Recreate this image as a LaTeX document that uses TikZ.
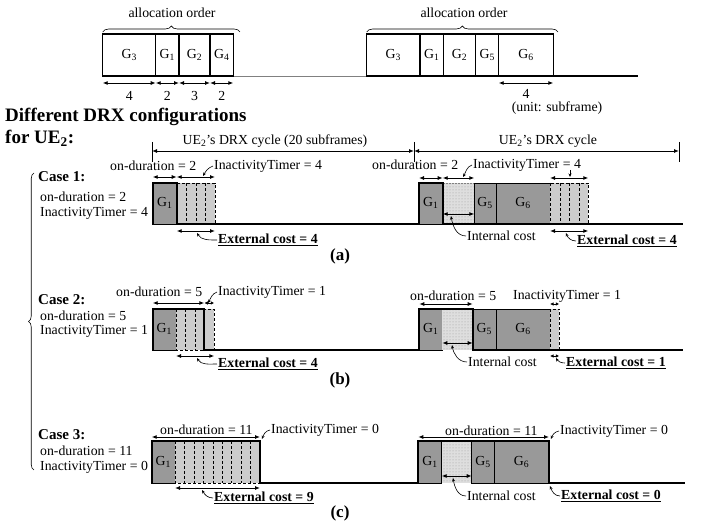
\documentclass[tikz,border=0pt]{standalone}
\usepackage{fontspec}
\setmainfont{Liberation Serif}
\usetikzlibrary{patterns,decorations.pathreplacing,arrows.meta}
\definecolor{gbox}{gray}{0.6}
\definecolor{lgray}{gray}{0.8}
\definecolor{sgray}{gray}{0.87}
\newcommand\Gs[1]{G\textsubscript{#1}}
\newcommand\UEt{UE\textsubscript{2}}
\tikzset{
  txt/.style={font=\fontsize{13.8}{15}\selectfont, inner sep=0pt},
  btxt/.style={font=\fontsize{13.8}{15}\selectfont\bfseries, inner sep=0pt},
  ctxt/.style={font=\fontsize{15}{16}\selectfont\bfseries, inner sep=0pt},
  ltxt/.style={font=\fontsize{17}{18}\selectfont\bfseries, inner sep=0pt},
  ttl/.style={font=\fontsize{19}{21}\selectfont\bfseries, inner sep=0pt, anchor=west},
  dimarr/.style={{Latex[length=5pt,width=4pt]}-{Latex[length=5pt,width=4pt]}, line width=0.9pt},
  sdimarr/.style={{Latex[length=3.5pt,width=3.5pt]}-{Latex[length=3.5pt,width=3.5pt]}, line width=0.9pt},
  leader/.style={line width=0.6pt, -{Stealth[length=3.5pt,width=3pt]}},
  wbox/.style={draw, line width=1.2pt, fill=white},
  gbx/.style={draw, line width=0.7pt, fill=gbox},
  ibox/.style={draw, densely dashed, line width=0.5pt, fill=lgray},
  prof/.style={line width=2.2pt, line join=miter},
  dline/.style={densely dashed, line width=0.6pt},
  brc/.style={decorate, line width=0.6pt},
}
\begin{document}
\begin{tikzpicture}[x=1pt,y=-1pt]
\useasboundingbox (0,0) rectangle (702,526);

% ---------------- top: allocation order ----------------
\draw[gray, line width=0.8pt] (233.3,76) -- (366.7,76);
\draw[line width=1.4pt] (366.7,76) -- (638,76);
\draw[wbox] (102.7,34) rectangle (155.7,76);
\draw[wbox] (155.7,34) rectangle (179,76);
\draw[wbox] (179,34) rectangle (210,76);
\draw[wbox] (210,34) rectangle (233.3,76);
\node[txt] (tlG3) at (129.2,55) {\Gs{3}};
\node[txt] (tlG1) at (167.3,55) {\Gs{1}};
\node[txt] (tlG2) at (194.5,55) {\Gs{2}};
\node[txt] (tlG4) at (221.7,55) {\Gs{4}};
\draw[wbox] (366.7,34) rectangle (420,76);
\draw[wbox] (420,34) rectangle (443.3,76);
\draw[wbox] (443.3,34) rectangle (475.7,76);
\draw[wbox] (475.7,34) rectangle (498.7,76);
\draw[wbox] (498.7,34) rectangle (553.3,76);
\node[txt] (trG3) at (393.3,55) {\Gs{3}};
\node[txt] (trG1) at (431.7,55) {\Gs{1}};
\node[txt] (trG2) at (459.5,55) {\Gs{2}};
\node[txt] (trG5) at (487.2,55) {\Gs{5}};
\node[txt] (trG6) at (526,55) {\Gs{6}};

\draw[brc, decoration={brace, amplitude=6pt}] (102.7,32) -- (240,32);
\draw[brc, decoration={brace, amplitude=6pt}] (366.7,32) -- (558,32);
\node[txt] (ao1) at (172,13) {allocation order};
\node[txt] (ao2) at (464,13) {allocation order};

\draw[dimarr] (102.7,83) -- (155.7,83);
\draw[dimarr] (155.7,83) -- (179,83);
\draw[dimarr] (179,83) -- (210,83);
\draw[dimarr] (210,83) -- (233.3,83);
\node[txt] (d4) at (129.2,96) {4};
\node[txt] (d2a) at (167.3,96) {2};
\node[txt] (d3) at (194.5,96) {3};
\node[txt] (d2b) at (221.7,96) {2};
\draw[dimarr] (498.7,83) -- (553.3,83);
\node[txt] (d4r) at (526,93.5) {4};
\node[txt] (unit) at (557,108.5) {(unit: subframe)};

% ---------------- title ----------------
\node[ttl] (t1) at (5,117) {Different DRX configurations};
\node[ttl] (t2) at (5,138) {for \UEt:};

% ---------------- DRX cycle ----------------
\draw[line width=0.8pt] (152,142) -- (152,162);
\draw[line width=0.8pt] (414,142) -- (414,162);
\draw[line width=0.8pt] (679,142) -- (679,162);
\draw[dimarr] (152,151) -- (414,151);
\draw[dimarr] (414,151) -- (679,151);
\node[txt] (cyc1) at (275,141) {\UEt's DRX cycle (20 subframes)};
\node[txt] (cyc2) at (548,141) {\UEt's DRX cycle};

% ---------------- left brace and case labels ----------------
\draw[brc, decoration={brace, amplitude=5.5pt}] (34,470) -- (34,173);
\node[ctxt, anchor=west] (k1) at (38,177) {Case 1:};
\node[txt, anchor=west] (k1on) at (40,197) {on-duration = 2};
\node[txt, anchor=west] (k1it) at (40,213) {InactivityTimer = 4};
\node[ctxt, anchor=west] (k2) at (38,300) {Case 2:};
\node[txt, anchor=west] (k2on) at (40,316) {on-duration = 5};
\node[txt, anchor=west] (k2it) at (40,331) {InactivityTimer = 1};
\node[ctxt, anchor=west] (k3) at (38,435) {Case 3:};
\node[txt, anchor=west] (k3on) at (40,451) {on-duration = 11};
\node[txt, anchor=west] (k3it) at (40,467) {InactivityTimer = 0};

% ================= Case 1 =================
\draw[gbx] (152.7,183) rectangle (176.7,224);
\node[txt] (c1aG1) at (164.7,203) {\Gs{1}};
\draw[ibox] (176.7,183) rectangle (215,224);
\foreach \x in {186.3,195.9,205.5} \draw[dline] (\x,183) -- (\x,224);
\draw[gbx] (419,183) rectangle (442.7,224);
\node[txt] (c1bG1) at (430.8,203) {\Gs{1}};
\fill[sgray] (442.7,183) rectangle (474.3,224);
\fill[pattern=dots, pattern color=gray!80] (442.7,183) rectangle (474.3,224);
\draw[densely dotted, gray, line width=0.5pt] (442.7,183) -- (474.3,183);
\draw[gbx] (474.3,183) rectangle (496,224);
\node[txt] (c1bG5) at (485.1,203) {\Gs{5}};
\draw[gbx] (496,183) rectangle (550,224);
\node[txt] (c1bG6) at (523,203) {\Gs{6}};
\draw[ibox] (550,183) rectangle (588.3,224);
\foreach \x in {559.8,569.3,578.8} \draw[dline] (\x,183) -- (\x,224);
\draw[prof] (152.7,225) -- (152.7,183) -- (176.7,183) -- (176.7,224) -- (419,224) -- (419,183) -- (442.7,183) -- (442.7,224) -- (683,224);

\node[txt, anchor=west] (c1aon) at (110,166) {on-duration = 2};
\draw[dimarr] (152.7,177) -- (176.7,177);
\draw[dimarr] (176.7,177) -- (215,177);
\node[txt, anchor=west] (c1ait) at (214,166) {InactivityTimer = 4};
\draw[leader] ([xshift=-1pt]c1ait.west) to[out=200,in=60] (203,176);
\draw[dimarr] (176.7,231) -- (215,231);
\node[btxt, anchor=west] (c1aext) at (218,240) {\underline{External cost = 4}};
\draw[leader] ([xshift=-1pt]c1aext.west) to[out=180,in=-60] (197,233);
\node[ltxt] (lbla) at (340,256) {(a)};

\node[txt, anchor=west] (c1bon) at (372,165) {on-duration = 2};
\draw[dimarr] (419,178) -- (442.7,178);
\draw[dimarr] (442.7,178) -- (474.3,178);
\node[txt, anchor=west] (c1bit) at (473,165) {InactivityTimer = 4};
\draw[leader] ([xshift=-1pt]c1bit.west) to[out=200,in=60] (463,177);
\draw[dimarr] (550,178) -- (588.3,178);
\draw[leader] (570,170) -- (570,177);
\draw[dimarr] (442.7,214) -- (474.3,214);
\node[txt, anchor=west] (c1bint) at (467,236) {Internal cost};
\draw[leader] ([xshift=-1pt]c1bint.west) to[out=180,in=-80] (451,216);
\draw[dimarr] (550,231) -- (588.3,231);
\node[btxt, anchor=west] (c1bext) at (577,241) {\underline{External cost = 4}};
\draw[leader] ([xshift=-1pt]c1bext.west) to[out=180,in=-70] (566,233);

% ================= Case 2 =================
\draw[gbx] (152.7,309) rectangle (176,350);
\node[txt] (c2aG1) at (164.3,329) {\Gs{1}};
\draw[ibox] (176,309) rectangle (204.3,350);
\foreach \x in {185.7,195} \draw[dline] (\x,309) -- (\x,350);
\draw[ibox] (204.3,309) rectangle (214.3,350);
\draw[gbx] (419.3,309) rectangle (442.3,350);
\node[txt] (c2bG1) at (430.8,329) {\Gs{1}};
\fill[sgray] (442.3,309) rectangle (472.7,350);
\fill[pattern=dots, pattern color=gray!80] (442.3,309) rectangle (472.7,350);
\draw[gbx] (472.7,309) rectangle (496,350);
\node[txt] (c2bG5) at (484.3,329) {\Gs{5}};
\draw[gbx] (496,309) rectangle (550,350);
\node[txt] (c2bG6) at (523,329) {\Gs{6}};
\draw[ibox] (550,309) rectangle (559.3,350);
\draw[prof] (152.7,351) -- (152.7,309) -- (204.3,309) -- (204.3,350) -- (419.3,350) -- (419.3,309) -- (472.7,309) -- (472.7,350) -- (683,350);

\node[txt, anchor=west] (c2aon) at (116,292) {on-duration = 5};
\draw[dimarr] (152.7,303) -- (204.3,303);
\draw[sdimarr] (204.3,303) -- (214.3,303);
\node[txt, anchor=west] (c2ait) at (218,292) {InactivityTimer = 1};
\draw[leader] ([xshift=-1pt]c2ait.west) to[out=200,in=60] (208,303);
\draw[dimarr] (176,356) -- (214.3,356);
\node[btxt, anchor=west] (c2aext) at (218,364) {\underline{External cost = 4}};
\draw[leader] ([xshift=-1pt]c2aext.west) to[out=180,in=-60] (197,358);
\node[ltxt] (lblb) at (340,380) {(b)};

\node[txt, anchor=west] (c2bon) at (410,296) {on-duration = 5};
\draw[dimarr] (419.3,304) -- (472.7,304);
\node[txt, anchor=west] (c2bit) at (513,296) {InactivityTimer = 1};
\draw[sdimarr] (550,304) -- (559.3,304);
\draw[dimarr] (442.3,343) -- (472.7,343);
\node[txt, anchor=west] (c2bint) at (468,362) {Internal cost};
\draw[leader] ([xshift=-1pt]c2bint.west) to[out=180,in=-80] (452,345);
\draw[sdimarr] (550,356) -- (559.3,356);
\node[btxt, anchor=west] (c2bext) at (566,363) {\underline{External cost = 1}};
\draw[leader] ([xshift=-1pt]c2bext.west) to[out=180,in=-60] (556,358);

% ================= Case 3 =================
\draw[gbx] (151.7,441) rectangle (175,483);
\node[txt] (c3aG1) at (163.3,462) {\Gs{1}};
\draw[ibox] (175,441) rectangle (260,483);
\foreach \x in {184.4,193.9,203.3,212.8,222.2,231.7,241.1,250.6} \draw[dline] (\x,441) -- (\x,483);
\draw[gbx] (418.3,441) rectangle (441.7,483);
\node[txt] (c3bG1) at (430,462) {\Gs{1}};
\fill[sgray] (441.7,441) rectangle (471.7,483);
\fill[pattern=dots, pattern color=gray!80] (441.7,441) rectangle (471.7,483);
\draw[gbx] (471.7,441) rectangle (494.3,483);
\node[txt] (c3bG5) at (483,462) {\Gs{5}};
\draw[gbx] (494.3,441) rectangle (549,483);
\node[txt] (c3bG6) at (521.6,462) {\Gs{6}};
\draw[prof] (151.7,484) -- (151.7,441) -- (260,441) -- (260,483) -- (418.3,483) -- (418.3,441) -- (549,441) -- (549,483) -- (685,483);

\node[txt, anchor=west] (c3aon) at (160,430) {on-duration = 11};
\draw[dimarr] (151.7,437) -- (260,437);
\node[txt, anchor=west] (c3ait) at (271,430) {InactivityTimer = 0};
\draw[leader] ([xshift=-1pt]c3ait.west) to[out=190,in=70] (262,439);
\draw[dimarr] (175,488) -- (260,488);
\node[btxt, anchor=west] (c3aext) at (214,498) {\underline{External cost = 9}};
\draw[leader] ([xshift=-1pt]c3aext.west) to[out=180,in=-60] (202,490);
\node[ltxt] (lblc) at (340,513) {(c)};

\node[txt, anchor=west] (c3bon) at (445,431) {on-duration = 11};
\draw[dimarr] (418.3,437) -- (549,437);
\node[txt, anchor=west] (c3bit) at (560,431) {InactivityTimer = 0};
\draw[leader] ([xshift=-1pt]c3bit.west) to[out=190,in=70] (551,439);
\draw[dimarr] (441.7,476) -- (471.7,476);
\node[txt, anchor=west] (c3bint) at (467,496) {Internal cost};
\draw[leader] ([xshift=-1pt]c3bint.west) to[out=180,in=-80] (453,478);
\node[btxt, anchor=west] (c3bext) at (561,496) {\underline{External cost = 0}};
\draw[leader] ([xshift=-1pt]c3bext.west) to[out=180,in=-70] (550,486);
\end{tikzpicture}
\end{document}
